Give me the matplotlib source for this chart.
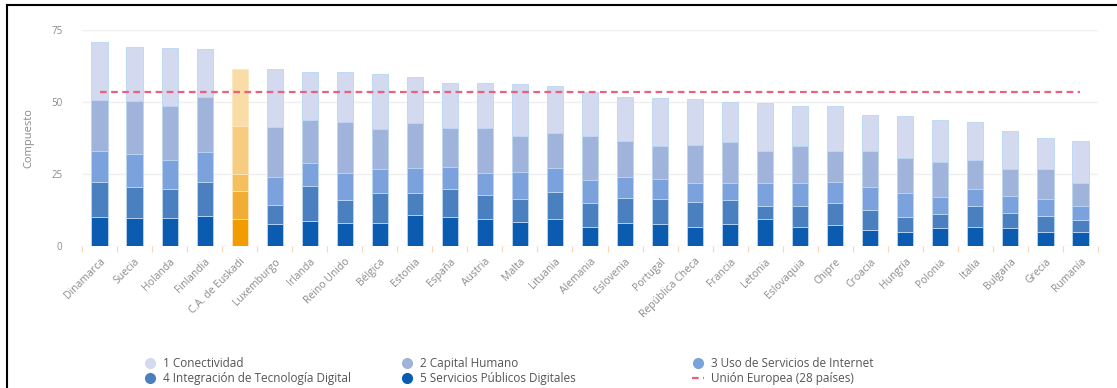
import numpy as np
import matplotlib.pyplot as plt
from matplotlib.lines import Line2D

plt.rcParams['font.family'] = ['Open Sans', 'DejaVu Sans']

# Índice DESI por país y dimensión
paises = ['Dinamarca', 'Suecia', 'Holanda', 'Finlandia', 'C.A. de Euskadi',
          'Luxemburgo', 'Irlanda', 'Reino Unido', 'Bélgica', 'Estonia',
          'España', 'Austria', 'Malta', 'Lituania', 'Alemania', 'Eslovenia',
          'Portugal', 'República Checa', 'Francia', 'Letonia', 'Eslovaquia',
          'Chipre', 'Croacia', 'Hungría', 'Polonia', 'Italia', 'Bulgaria',
          'Grecia', 'Rumanía']

servicios_publicos = [10.3, 10.0, 10.0, 10.7, 9.6, 7.8, 8.7, 8.2, 8.2, 10.9,
                      10.3, 9.4, 8.6, 9.4, 6.9, 8.0, 7.8, 6.9, 7.8, 9.4,
                      6.6, 7.4, 5.7, 5.1, 6.3, 6.9, 6.3, 5.1, 5.1]
integracion = [12.2, 10.7, 9.9, 11.8, 9.6, 6.6, 12.1, 7.9, 10.2, 7.6,
               9.6, 8.4, 7.7, 9.6, 8.1, 8.7, 8.5, 8.6, 8.3, 4.6,
               7.4, 7.6, 7.1, 5.2, 5.0, 7.1, 5.2, 5.5, 4.1]
uso_internet = [10.6, 11.2, 10.1, 10.3, 5.8, 9.8, 8.2, 9.2, 8.4, 8.8,
                7.6, 7.8, 9.6, 8.1, 8.0, 7.5, 7.0, 6.4, 5.8, 8.1,
                8.1, 7.4, 7.9, 8.1, 6.0, 5.8, 6.0, 5.7, 4.8]
capital_humano = [17.6, 18.5, 18.7, 19.1, 16.8, 17.3, 14.8, 17.7, 13.9, 15.5,
                  13.4, 15.3, 12.4, 12.1, 15.3, 12.4, 11.5, 13.3, 14.3, 11.1,
                  12.7, 10.8, 12.5, 12.1, 12.1, 10.2, 9.2, 10.4, 7.9]
conectividad = [20.0, 18.8, 19.9, 16.5, 19.6, 20.1, 16.5, 17.3, 19.0, 15.9,
                15.7, 15.8, 18.0, 16.4, 15.3, 15.1, 16.5, 15.8, 14.0, 16.6,
                13.9, 15.5, 12.3, 14.7, 14.4, 13.2, 13.3, 11.0, 14.6]
media_ue = 53.6

# dimensiones de abajo hacia arriba
series = [
    ('5 Servicios Públicos Digitales', servicios_publicos, '#0b5cb0', '#f39c00'),
    ('4 Integración de Tecnología Digital', integracion, '#4a7fc0', '#f2ad35'),
    ('3 Uso de Servicios de Internet', uso_internet, '#7ba2dc', '#f5bf5e'),
    ('2 Capital Humano', capital_humano, '#9fb3db', '#f6cc80'),
    ('1 Conectividad', conectividad, '#d3d9ee', '#f9dca6'),
]
destacado = paises.index('C.A. de Euskadi')

fig = plt.figure(figsize=(11.17, 3.88), dpi=100)
ax = fig.add_axes([0.0734, 0.3647, 0.9096, 0.558])

x = np.arange(len(paises))
bottom = np.zeros(len(paises))
handles = {}
for nombre, valores, color, color_dest in series:
    valores = np.array(valores)
    colores = [color_dest if i == destacado else color for i in range(len(paises))]
    bordes = ['#fde6bd' if i == destacado else '#b9d6f4' for i in range(len(paises))]
    ax.bar(x, valores, bottom=bottom, width=0.46, color=colores,
           edgecolor=bordes, linewidth=0.6, zorder=2)
    bottom += valores
    handles[nombre] = Line2D([], [], marker='o', linestyle='none', markersize=7,
                             markerfacecolor=color, markeredgecolor=color)

ax.plot([x[0], x[-1]], [media_ue, media_ue], color='#ee5f7e', lw=1.6,
        dashes=(3, 2), zorder=3)
handles['Unión Europea (28 países)'] = Line2D([], [], color='#ee5f7e', lw=1.6,
                                              dashes=(3, 2))

ax.set_xlim(-0.5, len(paises) - 0.5)
ax.set_ylim(0, 75)
ax.set_yticks([0, 25, 50, 75])
ax.yaxis.grid(True, color='#efefef', lw=1, zorder=0)
ax.set_axisbelow(True)
for s in ax.spines.values():
    s.set_visible(False)
ax.tick_params(axis='y', length=0, labelsize=7, labelcolor='#8a8a8a', pad=14)
ax.set_ylabel('Compuesto', fontsize=8, color='#8a8a8a', labelpad=12)

ax.set_xticks(x)
ax.set_xticklabels(paises, rotation=45, ha='right', rotation_mode='anchor',
                   fontsize=7.5, color='#8a8a8a')
ax.tick_params(axis='x', length=0, pad=7)
ax.set_xticks(np.arange(len(paises) + 1) - 0.5, minor=True)
ax.tick_params(axis='x', which='minor', length=4, color='#f7d6bd', width=0.8)

# leyenda en tres columnas
columnas = [
    (0.1235, ['1 Conectividad', '4 Integración de Tecnología Digital']),
    (0.3535, ['2 Capital Humano', '5 Servicios Públicos Digitales']),
    (0.6145, ['3 Uso de Servicios de Internet', 'Unión Europea (28 países)']),
]
for xpos, nombres in columnas:
    fig.legend([handles[n] for n in nombres], nombres, loc='upper left',
               bbox_to_anchor=(xpos, 0.094), frameon=False,
               fontsize=8.5, labelcolor='#555555', handlelength=1.0,
               handletextpad=0.6, labelspacing=0.12, borderpad=0)

# marco exterior (superior e izquierdo)
fig.add_artist(Line2D([0.0063, 1.0], [0.987, 0.987], color='black', lw=1.5,
                      transform=fig.transFigure))
fig.add_artist(Line2D([0.0063, 0.0063], [0.0, 0.987], color='black', lw=1.5,
                      transform=fig.transFigure))

fig.savefig('out.png', dpi=100)
